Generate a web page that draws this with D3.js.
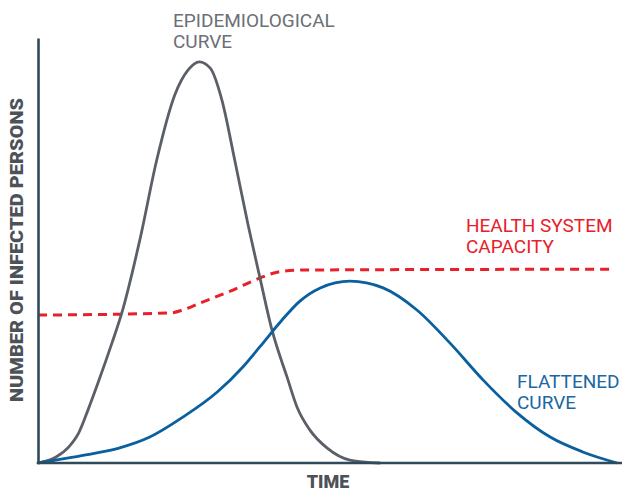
<!DOCTYPE html>
<html>
<head>
<meta charset="utf-8">
<script src="https://cdn.jsdelivr.net/npm/d3@7"></script>
<style>
  html, body { margin: 0; padding: 0; background: #ffffff; }
  svg { display: block; }
</style>
</head>
<body>
<svg id="chart" width="622" height="492"></svg>
<script>
// ---- data (time 0..100, persons 0..100, arbitrary units) ----
const epiTime    = [0, 3.1, 5.3, 7.0, 8.6, 10.3, 12.7, 14.4, 17.5, 20.4, 23.5, 25.8, 27.7, 29.6, 31.6, 33.8, 36.1, 38.1, 40.2, 42.8, 44.5, 46.7, 49.7, 53.6, 58.8];
const epiValues  = [0, 1.4, 3.8, 7.1, 12.5, 18.8, 28.2, 35.3, 52.5, 71.3, 86.6, 92.5, 94.4, 92.9, 85.4, 71.3, 56.0, 43.8, 31.3, 20.2, 13.2, 7.8, 3.5, 0.7, 0];

const flatTime   = [0, 8.2, 13.9, 19.2, 24.9, 30.8, 35.2, 38.1, 41.9, 45.0, 48.5, 53.6, 59.3, 65.1, 70.8, 76.5, 82.3, 88.0, 93.6, 99.5];
const flatValues = [0, 1.9, 3.5, 6.1, 10.8, 16.7, 22.6, 27.3, 33.6, 38.1, 41.2, 42.8, 41.2, 36.0, 28.2, 19.5, 11.8, 6.1, 2.6, 0];

const capTime    = [0, 22.7, 24.9, 27.8, 33.5, 38.1, 41.1, 45.0, 98.3];
const capValues  = [34.8, 35.3, 36.0, 37.6, 40.7, 43.5, 44.9, 45.4, 45.6];

const labels = {
  epi: ["EPIDEMIOLOGICAL", "CURVE"],
  cap: ["HEALTH SYSTEM", "CAPACITY"],
  flat: ["FLATTENED", "CURVE"],
  xTitle: "TIME",
  yTitle: "NUMBER OF INFECTED PERSONS"
};

// ---- layout ----
const svg = d3.select("#chart");
const mLeft = 38, mRight = 620, mTop = 38, mBottom = 463;

const x = d3.scaleLinear().domain([0, 100]).range([mLeft, mRight]);
const y = d3.scaleLinear().domain([0, 100]).range([mBottom, mTop]);

const zip = (a, b) => a.map((v, i) => [v, b[i]]);
const smooth = d3.line().x(d => x(d[0])).y(d => y(d[1])).curve(d3.curveMonotoneX);

// capacity dashed line
svg.append("path")
  .attr("d", smooth(zip(capTime, capValues)))
  .attr("fill", "none")
  .attr("stroke", "#e8202a")
  .attr("stroke-width", 3)
  .attr("stroke-dasharray", "9,6");

// epidemiological curve
svg.append("path")
  .attr("d", smooth(zip(epiTime, epiValues)))
  .attr("fill", "none")
  .attr("stroke", "#5b5f67")
  .attr("stroke-width", 2.8);

// flattened curve
svg.append("path")
  .attr("d", smooth(zip(flatTime, flatValues)))
  .attr("fill", "none")
  .attr("stroke", "#0a5f9e")
  .attr("stroke-width", 2.8);

// axes (plain lines, no ticks)
const axisColor = "#2f4a5a";
const xAxis = d3.axisBottom(x).tickValues([]).tickSize(0).tickSizeOuter(0);
const yAxis = d3.axisLeft(y).tickValues([]).tickSize(0).tickSizeOuter(0);
svg.append("g").attr("transform", `translate(0,${mBottom})`).call(xAxis)
  .call(g => g.select(".domain").attr("stroke", axisColor).attr("stroke-width", 2.6)
    .attr("d", `M${mLeft - 1.3},0H622`));
svg.append("g").attr("transform", `translate(${mLeft},0)`).call(yAxis)
  .call(g => g.select(".domain").attr("stroke", axisColor).attr("stroke-width", 2.6));

// annotation labels
function twoLine(lines, xPos, y1, color) {
  const t = svg.append("text")
    .attr("font-family", "Roboto, 'Noto Sans', sans-serif")
    .attr("font-size", 19)
    .attr("font-weight", 400)
    .attr("fill", color);
  lines.forEach((s, i) => {
    t.append("tspan").attr("x", xPos).attr("y", y1 + i * 21).text(s);
  });
}
twoLine(labels.epi, 173, 27, "#6b6f76");
twoLine(labels.cap, 466, 232, "#e8202a");
twoLine(labels.flat, 517, 388, "#1a67a3");

// axis titles
svg.append("text")
  .attr("x", 328)
  .attr("y", 488)
  .attr("text-anchor", "middle")
  .attr("font-family", "Roboto, sans-serif")
  .attr("font-weight", 900)
  .attr("font-size", 18)
  .attr("fill", "#4d5158")
  .text(labels.xTitle);

svg.append("text")
  .attr("transform", `translate(23,${(98 + 402) / 2}) rotate(-90)`)
  .attr("text-anchor", "middle")
  .attr("font-family", "Roboto, sans-serif")
  .attr("font-weight", 900)
  .attr("font-size", 18)
  .attr("fill", "#4d5158")
  .attr("textLength", 304)
  .attr("lengthAdjust", "spacingAndGlyphs")
  .text(labels.yTitle);
</script>
</body>
</html>
